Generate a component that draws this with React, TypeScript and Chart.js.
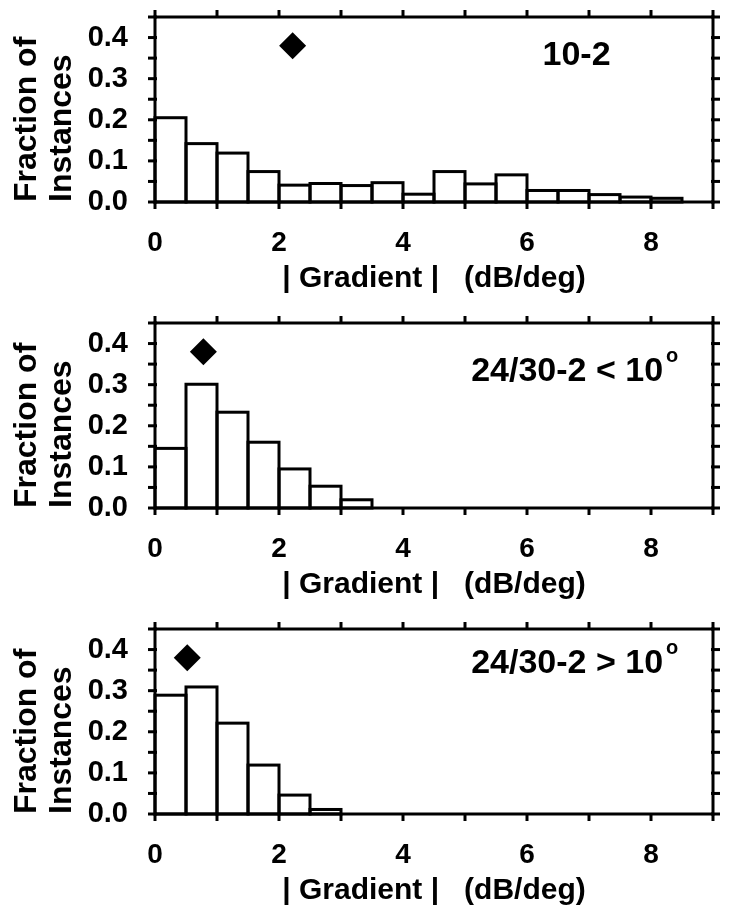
import React, { useEffect, useRef } from 'react';
import { Chart, registerables } from 'chart.js';

Chart.register(...registerables);

const FONT_FAMILY = '"Liberation Sans", Arial, Helvetica, sans-serif';
Chart.defaults.font.family = FONT_FAMILY;
Chart.defaults.color = '#000';

// ---- data ----
const BIN_WIDTH = 0.5;
const BIN_STARTS = [0, 0.5, 1, 1.5, 2, 2.5, 3, 3.5, 4, 4.5, 5, 5.5, 6, 6.5, 7, 7.5, 8];

const FRACTION_10_2 = [0.205, 0.142, 0.119, 0.074, 0.041, 0.045, 0.04, 0.047, 0.019, 0.074, 0.044, 0.066, 0.028, 0.028, 0.018, 0.012, 0.009];
const FRACTION_24_30_INNER = [0.145, 0.301, 0.233, 0.16, 0.095, 0.053, 0.02];
const FRACTION_24_30_OUTER = [0.289, 0.309, 0.221, 0.119, 0.046, 0.011];

const MEDIAN_X = [2.22, 0.78, 0.52];
const MEDIAN_Y = [0.38, 0.38, 0.38];

const PANEL_LABELS = ['10-2', '24/30-2 < 10', '24/30-2 > 10'];
const PANEL_LABEL_SUPERSCRIPTS = ['', 'o', 'o'];
const PANEL_LABEL_X = [6.25, 5.1, 5.1];
const PANEL_LABEL_Y = [0.333, 0.309, 0.343];

const X_MAX = 9;
const Y_MAX = 0.45;
const X_TICKS = [0, 2, 4, 6, 8];
const X_MINOR_TICKS = [0, 1, 2, 3, 4, 5, 6, 7, 8, 9];
const Y_TICKS = [0, 0.1, 0.2, 0.3, 0.4];
const Y_MINOR_TICKS = [0, 0.05, 0.1, 0.15, 0.2, 0.25, 0.3, 0.35, 0.4, 0.45];

const Y_TITLE = ['Fraction of', 'Instances'];
const X_TITLE = '| Gradient |   (dB/deg)';

const PANELS = [
  { values: FRACTION_10_2, i: 0 },
  { values: FRACTION_24_30_INNER, i: 1 },
  { values: FRACTION_24_30_OUTER, i: 2 },
];

const W = 732;
const H = 306;
const PLOT_TOP = 17;
const PLOT_H = 185;
const PLOT_LEFT = 155;
const PLOT_RIGHT_PAD = 19;

function Panel({ values, i }: { values: number[]; i: number }) {
  const ref = useRef<HTMLCanvasElement>(null);
  useEffect(() => {
    const framePlugin = {
      id: 'frame',
      afterDraw(chart: any) {
        const ctx = chart.ctx;
        const { left, right, top, bottom } = chart.chartArea;
        const xs = chart.scales.x;
        const ys = chart.scales.y;
        ctx.save();
        ctx.strokeStyle = '#000';
        ctx.lineWidth = 3;
        ctx.lineJoin = 'miter';
        // bar outlines from the bar elements
        const meta = chart.getDatasetMeta(1);
        meta.data.forEach((el: any) => {
          const p = el.getProps(['x', 'y', 'base', 'width'], true);
          ctx.strokeRect(p.x - p.width / 2, p.y, p.width, p.base - p.y);
        });
        // frame
        ctx.strokeRect(left, top, right - left, bottom - top);
        const line = (x1: number, y1: number, x2: number, y2: number) => {
          ctx.beginPath();
          ctx.moveTo(x1, y1);
          ctx.lineTo(x2, y2);
          ctx.stroke();
        };
        X_MINOR_TICKS.forEach((v) => {
          const px = xs.getPixelForValue(v);
          line(px, bottom + 1, px, bottom + 7);
          line(px, top - 1, px, top - 7);
        });
        Y_MINOR_TICKS.forEach((v) => {
          const py = ys.getPixelForValue(v);
          line(left + 2, py, left - 7, py);
          line(right - 2, py, right + 7, py);
        });
        // panel label
        ctx.fillStyle = '#000';
        ctx.textAlign = 'left';
        ctx.textBaseline = 'alphabetic';
        ctx.font = `bold 34px ${FONT_FAMILY}`;
        const lx = xs.getPixelForValue(PANEL_LABEL_X[i]);
        const ly = ys.getPixelForValue(PANEL_LABEL_Y[i]);
        ctx.fillText(PANEL_LABELS[i], lx, ly);
        if (PANEL_LABEL_SUPERSCRIPTS[i]) {
          const w = ctx.measureText(PANEL_LABELS[i]).width;
          ctx.font = `bold 20px ${FONT_FAMILY}`;
          ctx.fillText(PANEL_LABEL_SUPERSCRIPTS[i], lx + w + 3, ly - 19);
        }
        ctx.restore();
      },
    };

    const chart = new Chart(ref.current as HTMLCanvasElement, {
      type: 'bar',
      data: {
        datasets: [
          {
            type: 'scatter',
            data: [{ x: MEDIAN_X[i], y: MEDIAN_Y[i] }],
            pointStyle: 'rectRot',
            pointRadius: 13.5,
            backgroundColor: '#000',
            borderColor: '#000',
            borderWidth: 0,
          } as any,
          {
            type: 'bar',
            data: values.map((v, k) => ({ x: BIN_STARTS[k] + BIN_WIDTH / 2, y: v })),
            backgroundColor: '#fff',
            borderWidth: 0,
            barPercentage: 1,
            categoryPercentage: 1,
            grouped: false,
          } as any,
        ],
      },
      options: {
        animation: false,
        responsive: false,
        devicePixelRatio: 1,
        events: [],
        layout: { padding: { top: PLOT_TOP, right: PLOT_RIGHT_PAD, left: 0, bottom: 0 } },
        plugins: { legend: { display: false }, tooltip: { enabled: false } },
        scales: {
          x: {
            type: 'linear',
            min: 0,
            max: X_MAX,
            offset: false,
            grid: { display: false },
            border: { display: false },
            afterBuildTicks: (s: any) => {
              s.ticks = X_TICKS.map((v) => ({ value: v }));
            },
            afterFit: (s: any) => {
              s.height = H - PLOT_TOP - PLOT_H;
              s.paddingLeft = 0;
              s.paddingRight = 0;
            },
            ticks: {
              color: '#000',
              font: { size: 28, weight: 'bold' },
              padding: 16,
              maxRotation: 0,
              autoSkip: false,
              callback: (v: any) => String(v),
            },
            title: {
              display: true,
              text: X_TITLE,
              color: '#000',
              font: { size: 30, weight: 'bold' },
              padding: { top: 0, bottom: 9 },
            },
          },
          y: {
            type: 'linear',
            min: 0,
            max: Y_MAX,
            grid: { display: false },
            border: { display: false },
            afterBuildTicks: (s: any) => {
              s.ticks = Y_TICKS.map((v) => ({ value: v }));
            },
            afterFit: (s: any) => {
              s.width = PLOT_LEFT;
              s.paddingTop = 0;
              s.paddingBottom = 0;
            },
            ticks: {
              color: '#000',
              font: { size: 29, weight: 'bold' },
              padding: 19,
              callback: (v: any) => Number(v).toFixed(1),
            },
            title: {
              display: true,
              text: Y_TITLE,
              align: 'start',
              color: '#000',
              font: { size: 32, weight: 'bold', lineHeight: 1.08 },
              padding: { top: 10, bottom: 0 },
            },
          },
        },
      } as any,
      plugins: [framePlugin],
    });
    return () => chart.destroy();
  }, [values, i]);
  return (
    <div style={{ width: W, height: H }}>
      <canvas ref={ref} width={W} height={H} style={{ display: 'block' }} />
    </div>
  );
}

export default function App() {
  return (
    <div style={{ position: 'absolute', left: 0, top: 0, width: W, height: 918, background: '#fff' }}>
      {PANELS.map((p) => (
        <Panel key={p.i} values={p.values} i={p.i} />
      ))}
    </div>
  );
}
